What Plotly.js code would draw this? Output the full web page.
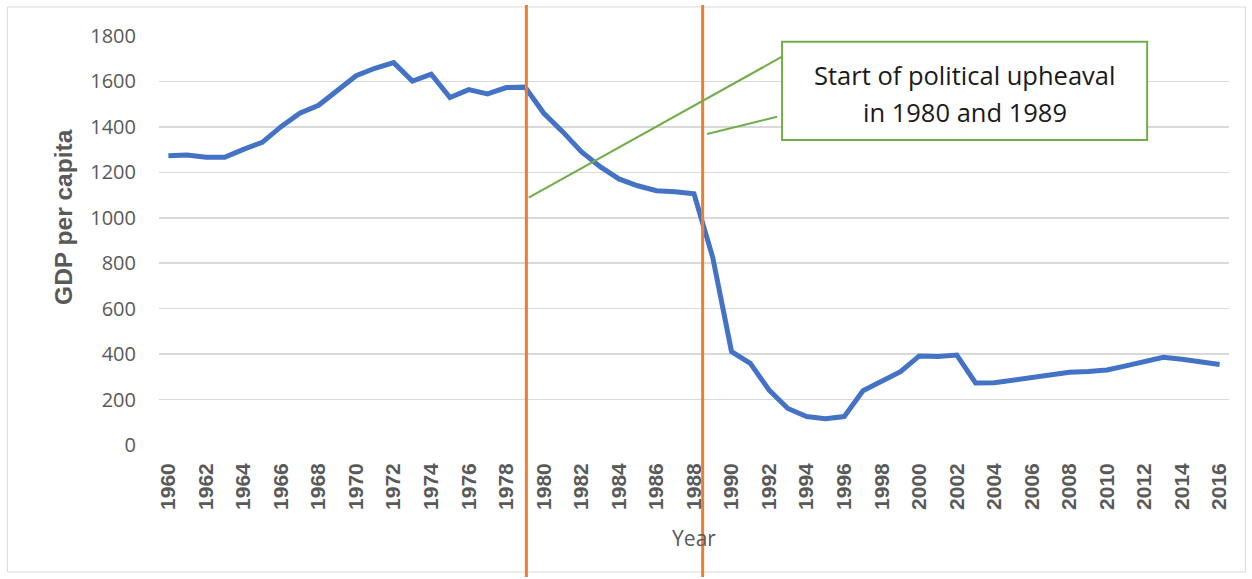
<!DOCTYPE html>
<html>
<head>
<meta charset="utf-8">
<script src="https://cdn.plot.ly/plotly-3.0.1.min.js"></script>
<style>
html,body{margin:0;padding:0;background:#fff;}
#chart{width:1252px;height:579px;}
</style>
</head>
<body>
<div id="chart"></div>
<script>
var years = [1960,1961,1962,1963,1964,1965,1966,1967,1968,1969,
             1970,1971,1972,1973,1974,1975,1976,1977,1978,1979,
             1980,1981,1982,1983,1984,1985,1986,1987,1988,1989,
             1990,1991,1992,1993,1994,1995,1996,1997,1998,1999,
             2000,2001,2002,2003,2004,2005,2006,2007,2008,2009,
             2010,2011,2012,2013,2014,2015,2016];
var gdpPerCapita = [1273,1276,1266,1266,1301,1332,1401,1460,1495,1562,
                    1625,1658,1683,1602,1632,1529,1564,1545,1573,1575,
                    1460,1379,1291,1225,1171,1141,1119,1115,1106,825,
                    411,359,242,161,125,116,125,239,282,323,
                    392,389,396,273,274,286,298,311,320,323,
                    330,348,365,386,377,367,354];
var upheavalMarkers = [1979.07, 1988.46];
var yTicks = [0,200,400,600,800,1000,1200,1400,1600,1800];
var xTicks = [1960,1962,1964,1966,1968,1970,1972,1974,1976,1978,1980,1982,1984,1986,1988,
              1990,1992,1994,1996,1998,2000,2002,2004,2006,2008,2010,2012,2014,2016];
var calloutLines = ["Start of political upheaval", "in 1980 and 1989"];

var grey = '#595959';
var trace = {
  x: years, y: gdpPerCapita, type: 'scatter', mode: 'lines',
  line: {color: '#4472C4', width: 5}, hoverinfo: 'x+y'
};

var shapes = [];
// outer chart border
shapes.push({type:'rect', xref:'paper', yref:'paper', x0:-0.1417, x1:1.0153, y0:-0.3105, y1:1.0709,
  line:{color:'#D9D9D9', width:1}, layer:'below'});
upheavalMarkers.forEach(function(v){
  shapes.push({type:'line', xref:'x', yref:'paper', x0:v, x1:v, y0:-0.3227, y1:1.0758,
    line:{color:'#ED7D31', width:3}});
});
// callout connector lines
shapes.push({type:'line', xref:'paper', yref:'paper', x0:0.3455, y0:0.6046, x1:0.5823, y1:0.9494,
  line:{color:'#70AD47', width:2}});
shapes.push({type:'line', xref:'paper', yref:'paper', x0:0.5122, y0:0.7604, x1:0.5777, y1:0.8027,
  line:{color:'#70AD47', width:2}});
// callout box
shapes.push({type:'rect', xref:'paper', yref:'paper', x0:0.5823, x1:0.9235, y0:0.7457, y1:0.9861,
  fillcolor:'#FFFFFF', line:{color:'#70AD47', width:2}});

var boxFont = {family:'Open Sans, sans-serif', size:25.5, color:'#1a1a1a'};
var annotations = [
  {xref:'paper', yref:'paper', x:0.7529, y:(445-75)/409, text:calloutLines[0], showarrow:false,
   xanchor:'center', yanchor:'middle', font:boxFont},
  {xref:'paper', yref:'paper', x:0.7529, y:(445-112)/409, text:calloutLines[1], showarrow:false,
   xanchor:'center', yanchor:'middle', font:boxFont},
  {xref:'paper', yref:'paper', x:(63-158.6)/1070, y:(445-216.5)/409, text:'GDP per capita',
   showarrow:false, textangle:-90, xanchor:'center', yanchor:'middle',
   font:{family:'Liberation Sans, Arial, sans-serif', size:24.5, color:grey, weight:'bold'}}
];

var layout = {
  width:1252, height:579,
  margin:{l:158.6, r:23.4, t:36, b:134, pad:0},
  paper_bgcolor:'#fff', plot_bgcolor:'#fff',
  showlegend:false,
  xaxis:{
    range:[1959.5, 2016.5], tickmode:'array', tickvals:xTicks, ticktext:xTicks.map(String),
    tickangle:-90, showgrid:false, zeroline:false, showline:false, ticks:'',
    ticklabelstandoff:13,
    tickfont:{family:'Liberation Sans, Arial, sans-serif', size:21, color:grey, weight:'bold'},
    title:{text:'Year', standoff:22, font:{family:'Open Sans, sans-serif', size:21, color:grey}},
    automargin:false, fixedrange:true
  },
  yaxis:{
    range:[0,1800], tickmode:'array', tickvals:yTicks, showgrid:true, gridcolor:'#D9D9D9', gridwidth:1.5,
    zeroline:false, showline:false, ticks:'', ticklabelstandoff:22,
    tickfont:{family:'Open Sans, sans-serif', size:20, color:grey},
    automargin:false, fixedrange:true
  },
  shapes:shapes,
  annotations:annotations
};

Plotly.newPlot('chart', [trace], layout, {displayModeBar:false, staticPlot:true});
</script>
</body>
</html>
